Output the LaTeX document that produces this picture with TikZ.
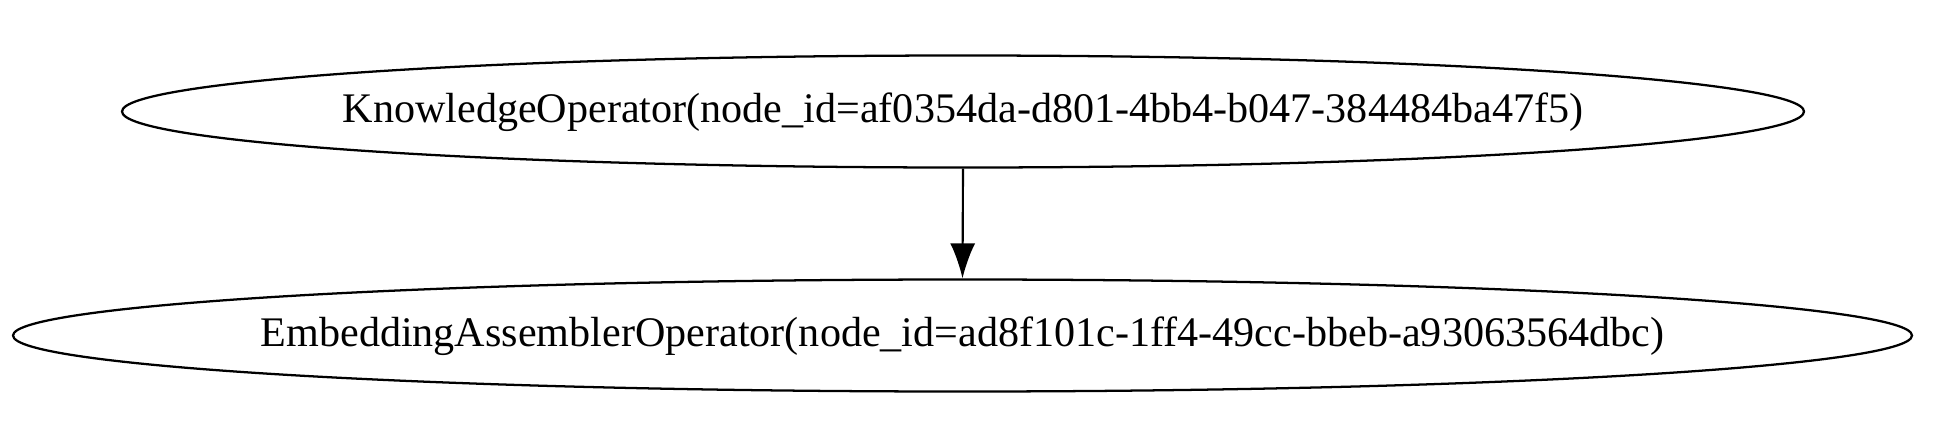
\documentclass[tikz,border=0pt]{standalone}
\usepackage{fontspec}
\setmainfont{Liberation Serif}
\usetikzlibrary{shapes.geometric,arrows.meta}
\begin{document}
\begin{tikzpicture}[x=0.75pt,y=-0.75pt,
  opnode/.style={ellipse,draw,line width=1.7pt,inner sep=0pt},
  optext/.style={font=\fontsize{31.6}{36}\selectfont,yshift=-0.75pt},
  edge/.style={line width=1.6pt,-{Latex[length=26.25pt,width=18.75pt]}}]
\useasboundingbox (0,0) rectangle (1947,447);
\node[opnode,minimum width=1682*0.75pt,minimum height=112*0.75pt,
  label={[optext]center:KnowledgeOperator(node\_id=af0354da-d801-4bb4-b047-384484ba47f5)}] (k) at (963,111.5) {};
\node[opnode,minimum width=1899*0.75pt,minimum height=112*0.75pt,
  label={[optext]center:EmbeddingAssemblerOperator(node\_id=ad8f101c-1ff4-49cc-bbeb-a93063564dbc)}] (e) at (962.5,335.5) {};
\draw[edge] (k.south) -- (e.north);
\end{tikzpicture}
\end{document}
